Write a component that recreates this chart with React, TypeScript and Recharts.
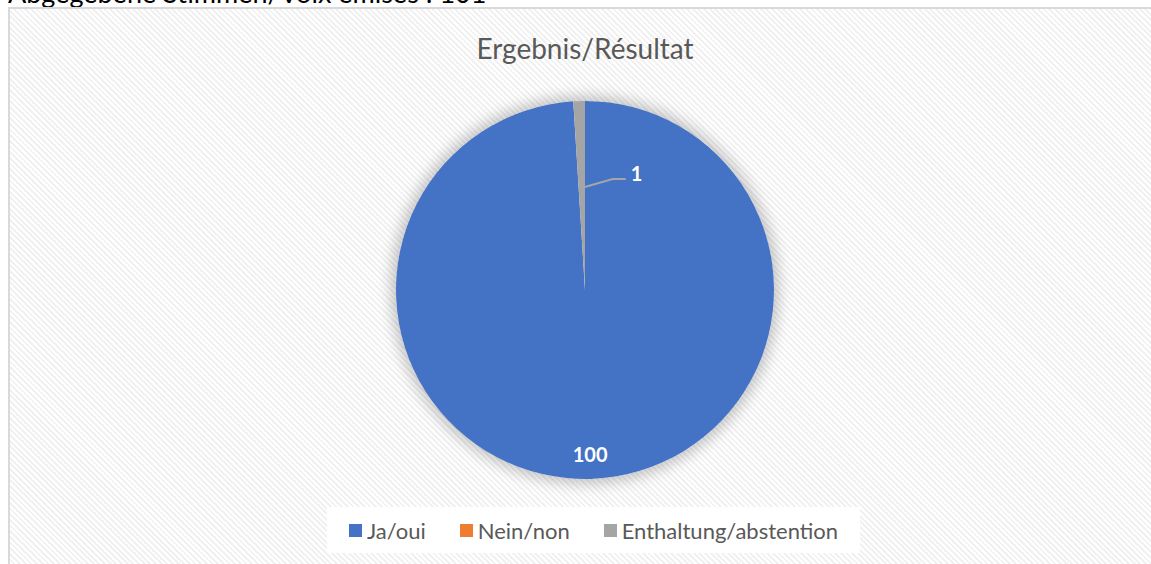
import { PieChart, Pie, Cell, Legend } from 'recharts'

const categories = ['Ja/oui', 'Nein/non', 'Enthaltung/abstention']
const votes = [100, 0, 1]
const colors = ['#4472C4', '#ED7D31', '#A5A5A5']

const chartTitle = 'Ergebnis/Résultat'
const headline = 'Abgegebene Stimmen/Voix émises : 101'

const pieData = categories.map((name, i) => ({ name, value: votes[i] }))

const RAD = Math.PI / 180
const font = 'Lato, "Open Sans", sans-serif'

function renderLabel(props: any) {
  const { cx, cy, midAngle, outerRadius, value, index } = props
  if (!value) return null
  const cos = Math.cos(-midAngle * RAD)
  const sin = Math.sin(-midAngle * RAD)
  if (index === 0) {
    const r = outerRadius * 0.87
    return (
      <text
        x={cx + r * cos}
        y={cy + r * sin}
        fill="#fff"
        fontSize={20}
        fontWeight={700}
        fontFamily={font}
        textAnchor="middle"
        dominantBaseline="central"
      >
        {value}
      </text>
    )
  }
  // small slice: label outside the slice with a leader line
  const r0 = outerRadius * 0.545
  const sx = cx + r0 * cos + 3
  const sy = cy + r0 * sin
  const ex = sx + 28
  const ey = sy - 8
  const tx = ex + 13
  return (
    <g>
      <polyline
        points={`${sx},${sy} ${ex},${ey} ${tx},${ey}`}
        fill="none"
        stroke="#A5A5A5"
        strokeWidth={2}
      />
      <text
        x={tx + 5}
        y={ey - 6}
        fill="#fff"
        fontSize={20}
        fontWeight={700}
        fontFamily={font}
        dominantBaseline="central"
      >
        {value}
      </text>
    </g>
  )
}

function LegendBox() {
  return (
    <div
      style={{
        display: 'flex',
        alignItems: 'center',
        justifyContent: 'center',
        background: '#fff',
        width: 533,
        height: 46,
        fontFamily: font,
        fontSize: 22,
        color: '#595959',
      }}
    >
      {categories.map((name, i) => (
        <div
          key={name}
          style={{
            display: 'flex',
            alignItems: 'center',
            marginRight: i < categories.length - 1 ? 34 : 0,
          }}
        >
          <span
            style={{
              width: 13,
              height: 13,
              background: colors[i],
              marginRight: 5,
              display: 'inline-block',
            }}
          />
          <span>{name}</span>
        </div>
      ))}
    </div>
  )
}

export default function App() {
  return (
    <div
      style={{
        position: 'fixed',
        left: 0,
        top: 0,
        width: 1151,
        height: 564,
        overflow: 'hidden',
        background: '#fff',
      }}
    >
      <div
        style={{
          position: 'absolute',
          left: 8,
          top: -24,
          fontFamily: font,
          fontSize: 27,
          color: '#000',
          whiteSpace: 'nowrap',
        }}
      >
        {headline}
      </div>
      <div
        style={{
          position: 'absolute',
          left: 8,
          top: 7,
          width: 1160,
          height: 570,
          border: '2px solid #d9d9d9',
          boxSizing: 'border-box',
          background:
            'repeating-linear-gradient(45deg, #ffffff 0px, #ffffff 2px, #f1f1f1 2px, #f1f1f1 4px)',
        }}
      />
      {/* soft shadow behind the pie */}
      <div
        style={{
          position: 'absolute',
          left: 585 - 189,
          top: 290 - 189,
          width: 378,
          height: 378,
          borderRadius: '50%',
          boxShadow: '0 0 14px 5px rgba(0,0,0,0.22)',
        }}
      />
      <div
        style={{
          position: 'absolute',
          left: 0,
          top: 31,
          width: 1170,
          textAlign: 'center',
          fontFamily: font,
          fontSize: 28,
          color: '#595959',
        }}
      >
        {chartTitle}
      </div>
      <div style={{ position: 'absolute', left: 0, top: 0 }}>
        <PieChart width={1151} height={564} margin={{ top: 0, right: 0, bottom: 0, left: 0 }}>
          <Pie
            data={pieData}
            dataKey="value"
            nameKey="name"
            cx={585}
            cy={290}
            outerRadius={189}
            startAngle={90}
            endAngle={-270}
            stroke="none"
            label={renderLabel}
            labelLine={false}
            isAnimationActive={false}
          >
            {pieData.map((d, i) => (
              <Cell key={d.name} fill={colors[i]} />
            ))}
          </Pie>
          <Legend
            content={() => <LegendBox />}
            wrapperStyle={{ position: 'absolute', left: 327, top: 507, width: 533 }}
          />
        </PieChart>
      </div>
    </div>
  )
}
